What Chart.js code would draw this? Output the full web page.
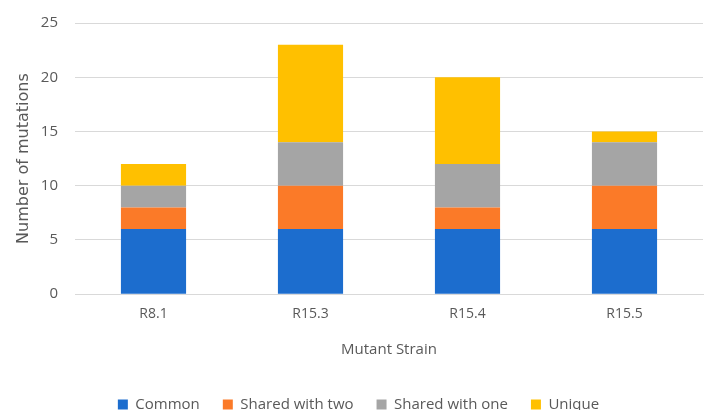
<!DOCTYPE html>
<html>
<head>
<meta charset="utf-8">
<script src="https://cdn.jsdelivr.net/npm/chart.js@4"></script>
<style>
  html, body { margin: 0; padding: 0; background: #fff; }
  #wrap { width: 704px; height: 410px; }
</style>
</head>
<body>
<div id="wrap"><canvas id="chart" width="704" height="410"></canvas></div>
<script>
// mutation counts per strain, split by category
var strains = ['R8.1', 'R15.3', 'R15.4', 'R15.5'];
var common = [6, 6, 6, 6];
var sharedTwo = [2, 4, 2, 4];
var sharedOne = [2, 4, 4, 4];
var unique = [2, 9, 8, 1];
var yTicks = [0, 5, 10, 15, 20, 25];

var textColor = '#595959';
var family = '"Open Sans", "DejaVu Sans", sans-serif';

function series(label, data, color) {
  return {
    label: label,
    data: data,
    backgroundColor: color,
    borderWidth: 0,
    barPercentage: 0.83,
    categoryPercentage: 0.5
  };
}

new Chart(document.getElementById('chart'), {
  type: 'bar',
  data: {
    labels: strains,
    datasets: [
      series('Common', common, '#1c6dce'),
      series('Shared with two', sharedTwo, '#fb7a28'),
      series('Shared with one', sharedOne, '#a5a5a5'),
      series('Unique', unique, '#ffc000')
    ]
  },
  options: {
    responsive: false,
    animation: false,
    layout: { padding: { top: 23, right: 1, left: 14, bottom: -12 } },
    plugins: {
      legend: {
        position: 'bottom',
        labels: {
          color: textColor,
          font: { family: family, size: 15 },
          boxWidth: 10,
          boxHeight: 10,
          padding: 23
        }
      },
      tooltip: { enabled: false }
    },
    scales: {
      x: {
        stacked: true,
        grid: { display: false },
        border: { color: '#d9d9d9' },
        ticks: { color: textColor, font: { family: family, size: 14 }, padding: 3 },
        title: {
          display: true,
          text: 'Mutant Strain',
          color: textColor,
          font: { family: family, size: 15 },
          padding: { top: 16, bottom: 15 }
        }
      },
      y: {
        stacked: true,
        min: 0,
        max: 25,
        afterBuildTicks: function (axis) {
          axis.ticks = yTicks.map(function (v) { return { value: v }; });
        },
        afterFit: function (axis) {
          axis.width = 61;
          axis.paddingTop = 0;
        },
        grid: { color: '#d9d9d9', drawTicks: false },
        border: { display: false },
        ticks: { color: textColor, font: { family: family, size: 15 }, padding: 17 },
        title: {
          display: true,
          text: 'Number of mutations',
          color: textColor,
          font: { family: '"DejaVu Sans", sans-serif', size: 16 },
          padding: { top: 0, bottom: 8 }
        }
      }
    }
  }
});
</script>
</body>
</html>
